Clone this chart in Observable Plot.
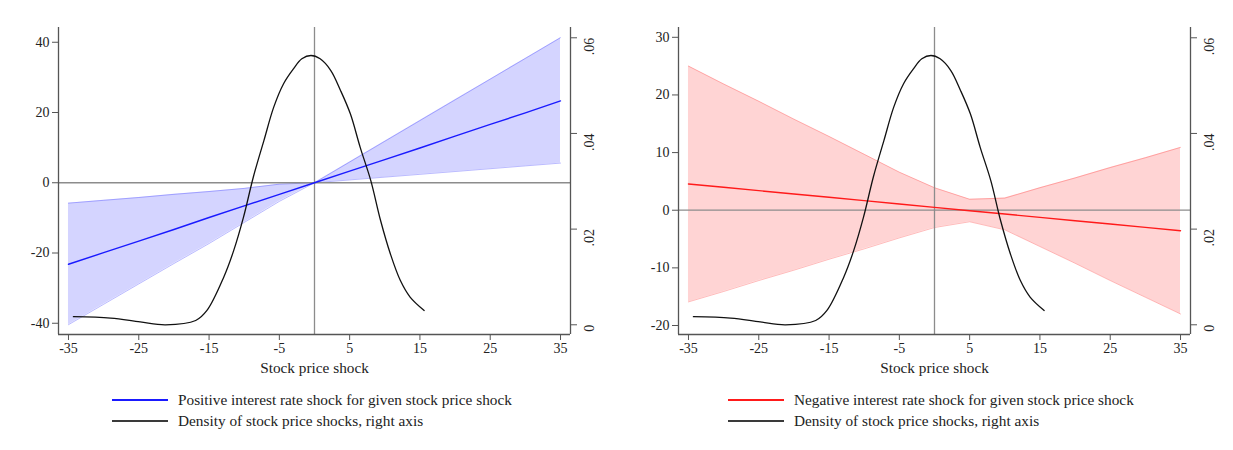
<!DOCTYPE html>
<html><head><meta charset="utf-8">
<script src="https://cdn.jsdelivr.net/npm/d3@7"></script>
<script src="https://cdn.jsdelivr.net/npm/@observablehq/plot@0.6"></script>
<style>
body{margin:0;background:#fff;font-family:"Liberation Serif","Times New Roman",serif;}
#wrap{position:relative;width:1233px;height:450px;overflow:hidden;}
.panel{position:absolute;top:0;}
.legend{position:absolute;top:389px;font-size:15.3px;color:#222;}
.row{display:flex;align-items:center;height:21.5px;white-space:nowrap;}
.swatch{display:inline-block;width:56px;height:1.6px;margin-right:10px;}
</style></head><body><div id="wrap"></div>
<script>
// Stock price shock grid
const shock = [-35,-30,-25,-20,-15,-10,-5,0,5,10,15,20,25,30,35];
// Positive interest rate shock (left panel)
const posLine = [-23.2,-19.9,-16.6,-13.3,-9.9,-6.6,-3.3,0,3.3,6.6,9.9,13.3,16.6,19.9,23.3];
const posLo   = [-40.4,-34.6,-28.8,-23.0,-17.3,-11.3,-5.3,0,0.8,1.6,2.4,3.2,4.0,4.8,5.6];
const posHi   = [-5.8,-5.0,-4.2,-3.3,-2.5,-1.6,-0.4,0,5.9,11.8,17.7,23.6,29.5,35.4,41.3];
// Negative interest rate shock (right panel)
const negLine = [4.56,3.98,3.4,2.82,2.24,1.66,1.08,0.5,-0.08,-0.66,-1.24,-1.82,-2.4,-2.98,-3.56];
const negLo   = [-15.9,-14.1,-12.2,-10.4,-8.5,-6.7,-4.8,-3.0,-2.0,-3.4,-6.3,-9.2,-12.2,-15.1,-18.0];
const negHi   = [25.0,21.9,18.9,15.8,12.8,9.7,6.6,3.9,1.9,2.1,3.9,5.6,7.4,9.1,10.9];
// Density of stock price shocks (right axis)
const densX = [-34.3,-29,-24.8,-21.2,-16.9,-15.3,-12.9,-11.5,-10.1,-8.7,-7.2,-5.8,-4.4,-3.0,-1.8,-0.5,0.8,2.3,3.7,5.1,6.5,8.0,9.4,10.8,12.2,13.6,15.6];
const densY = [0.0017,0.0014,0.0006,0.0000,0.0009,0.0030,0.0100,0.0155,0.0225,0.0309,0.0385,0.0455,0.0504,0.0535,0.0556,0.0563,0.0556,0.0532,0.0490,0.0441,0.0371,0.0302,0.0218,0.0148,0.0093,0.0058,0.0030];
// Tick labels
const xTicks = [-35,-25,-15,-5,5,15,25,35];
const leftTicksPos = [-40,-20,0,20,40];
const leftTicksNeg = [-20,-10,0,10,20,30];
const densTicks = [0,0.02,0.04,0.06];
const densLabels = ["0",".02",".04",".06"];
const axisTitle = "Stock price shock";
const legendPos = ["Positive interest rate shock for given stock price shock","Density of stock price shocks, right axis"];
const legendNeg = ["Negative interest rate shock for given stock price shock","Density of stock price shocks, right axis"];

const xDomain = [-36.42, 36.42];
const dDomain = [-0.00203, 0.06215];
const AX = "#555";

function panel({line, lo, hi, color, fill, edge, yDomain, yTicks, width, marginRight}) {
  const toY = d => yDomain[0] + (d - dDomain[0]) / (dDomain[1] - dDomain[0]) * (yDomain[1] - yDomain[0]);
  const rows = shock.map((x, i) => ({x, line: line[i], lo: lo[i], hi: hi[i]}));
  const dens = densX.map((x, i) => ({x, y: toY(densY[i])}));
  const rt = densTicks.map((d, i) => ({v: toY(d), label: densLabels[i]}));
  return Plot.plot({
    width, height: 380, marginLeft: 58, marginRight, marginTop: 27, marginBottom: 46,
    x: {domain: xDomain}, y: {domain: yDomain},
    style: {fontFamily: '"Liberation Serif","Times New Roman",serif', fontSize: "14px", color: "#222", background: "white", overflow: "visible"},
    marks: [
      Plot.areaY(rows, {x: "x", y1: "lo", y2: "hi", fill}),
      Plot.lineY(rows, {x: "x", y: "lo", stroke: edge, strokeWidth: 1}),
      Plot.lineY(rows, {x: "x", y: "hi", stroke: edge, strokeWidth: 1}),
      Plot.ruleY([0], {stroke: "#8c8c8c", strokeWidth: 1.3}),
      Plot.ruleX([0], {stroke: "#8c8c8c", strokeWidth: 1.3}),
      Plot.lineY(rows, {x: "x", y: "line", stroke: color, strokeWidth: 1.4}),
      Plot.lineY(dens, {x: "x", y: "y", stroke: "#111", strokeWidth: 1.3, curve: "catmull-rom"}),
      Plot.ruleX([xDomain[0]], {stroke: AX, strokeWidth: 1.3}),
      Plot.ruleX([xDomain[1]], {stroke: AX, strokeWidth: 1.3}),
      Plot.ruleY([yDomain[0]], {stroke: AX, strokeWidth: 1.3}),
      Plot.axisX({ticks: xTicks, tickSize: 6, tickPadding: 3, stroke: AX, label: null, tickFormat: d => String(d)}),
      Plot.axisY({ticks: yTicks, tickSize: 6, tickPadding: 3, stroke: AX, label: null, tickFormat: d => String(d)}),
      Plot.axisY({anchor: "right", ticks: rt.map(d => d.v), tickSize: 6, stroke: AX, label: null, tickFormat: () => ""}),
      Plot.text(rt, {y: "v", text: "label", frameAnchor: "right", dx: 19, rotate: -90, fill: "#222"}),
      Plot.text([axisTitle], {frameAnchor: "bottom", dy: 38, fontSize: 15.3, fill: "#222"})
    ]
  });
}

function legend(labels, color, left) {
  const div = document.createElement("div");
  div.className = "legend";
  div.style.left = left + "px";
  [[color, labels[0]], ["#3a3a3a", labels[1]]].forEach(([c, t]) => {
    const r = document.createElement("div"); r.className = "row";
    const s = document.createElement("span"); s.className = "swatch"; s.style.background = c;
    const l = document.createElement("span"); l.textContent = t;
    r.append(s, l); div.append(r);
  });
  return div;
}

const wrap = document.getElementById("wrap");
const p1 = panel({line: posLine, lo: posLo, hi: posHi, color: "#1a1aff", fill: "rgba(0,0,255,0.17)", edge: "rgba(60,60,255,0.35)",
  yDomain: [-43.2, 44.2], yTicks: leftTicksPos, width: 620, marginRight: 50});
const d1 = document.createElement("div"); d1.className = "panel"; d1.style.left = "0px"; d1.append(p1);
const p2 = panel({line: negLine, lo: negLo, hi: negHi, color: "#ff1a1a", fill: "rgba(255,0,0,0.17)", edge: "rgba(255,60,60,0.35)",
  yDomain: [-21.56, 31.7], yTicks: leftTicksNeg, width: 613, marginRight: 43});
const d2 = document.createElement("div"); d2.className = "panel"; d2.style.left = "620px"; d2.append(p2);
wrap.append(d1, d2, legend(legendPos, "#1a1aff", 112), legend(legendNeg, "#ff1a1a", 728));
</script></body></html>
